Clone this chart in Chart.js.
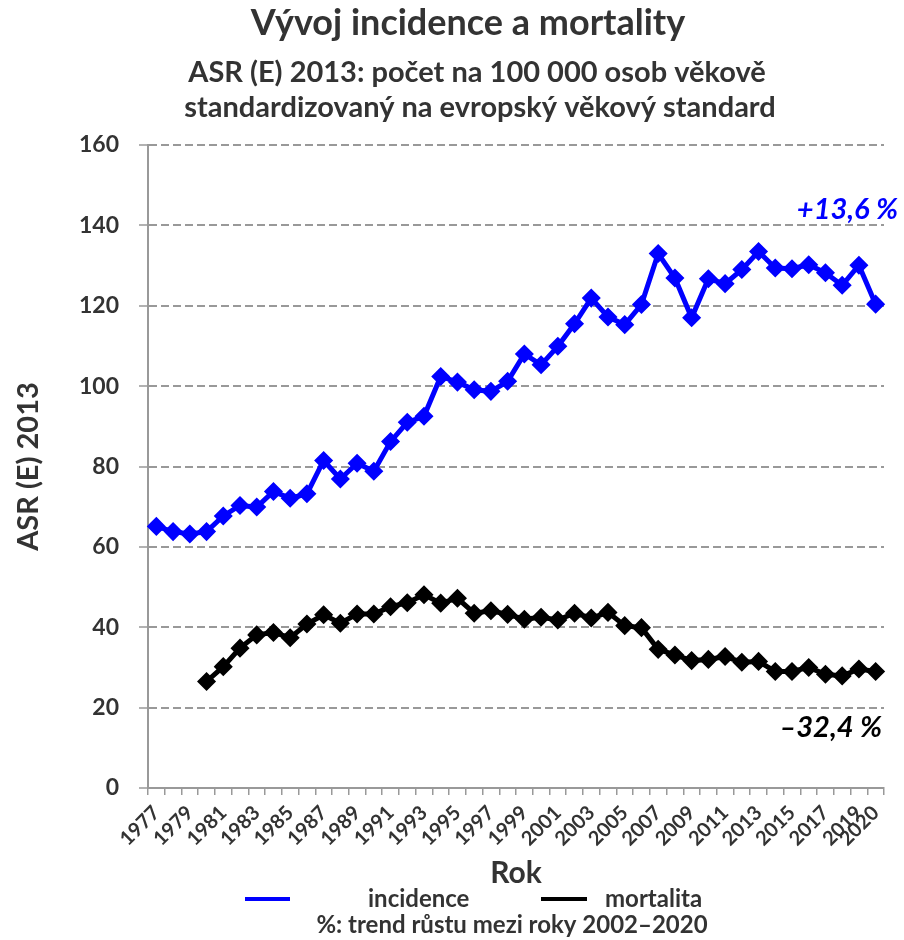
<!DOCTYPE html>
<html>
<head>
<meta charset="utf-8">
<script src="https://cdn.jsdelivr.net/npm/chart.js@4"></script>
<style>
  html, body { margin: 0; padding: 0; background: #fff; }
  #wrap { width: 904px; height: 940px; }
</style>
</head>
<body>
<div id="wrap"><canvas id="trendChart" width="904" height="940"></canvas></div>
<script>
// --- Data ---
const years = [];
for (let y = 1977; y <= 2020; y++) years.push(String(y));

const incidence = [65.1, 63.8, 63.2, 63.8, 67.7, 70.3, 69.9, 73.8, 72.1, 73.2,
  81.5, 76.9, 80.8, 78.8, 86.2, 91.0, 92.5, 102.4, 101.0, 99.1,
  98.7, 101.2, 108.0, 105.3, 109.9, 115.5, 121.9, 117.2, 115.3, 120.3,
  133.0, 126.9, 117.0, 126.7, 125.5, 129.0, 133.5, 129.4, 129.2, 130.2,
  128.2, 125.1, 130.1, 120.4];

const mortality = [null, null, null, 26.5, 30.2, 34.8, 38.1, 38.7, 37.4, 40.8,
  43.1, 41.0, 43.3, 43.3, 45.1, 46.1, 48.1, 46.0, 47.2, 43.5,
  44.1, 43.2, 42.0, 42.5, 41.8, 43.5, 42.3, 43.7, 40.4, 39.9,
  34.5, 33.1, 31.7, 32.0, 32.7, 31.3, 31.5, 29.0, 29.0, 30.0,
  28.3, 27.9, 29.6, 29.0];

const yTicks = [0, 20, 40, 60, 80, 100, 120, 140, 160];
const trendIncidence = "+13,6 %";
const trendMortality = "\u201332,4 %";

const FONT = "Lato, 'Open Sans', sans-serif";
const TEXT = "#333333";

// titles, legend and trend notes drawn on the canvas
const decorations = {
  id: "decorations",
  afterDraw(chart) {
    const c = chart.ctx;
    const area = chart.chartArea;
    const ys = chart.scales.y;
    c.save();
    c.textAlign = "center";
    c.textBaseline = "middle";
    c.fillStyle = TEXT;
    c.font = "bold 36px " + FONT;
    c.fillText("Vývoj incidence a mortality", 468, 23);
    c.font = "bold 29px " + FONT;
    c.fillText("ASR (E) 2013: počet na 100 000 osob věkově", 477, 73);
    c.fillText("standardizovaný na evropský věkový standard", 480, 108);

    // trend labels
    c.font = "italic bold 29px " + FONT;
    c.textAlign = "right";
    c.fillStyle = "#0000ff";
    c.fillText(trendIncidence, area.right + 14, ys.getPixelForValue(144));
    c.fillStyle = "#000000";
    c.fillText(trendMortality, area.right - 2, ys.getPixelForValue(15));

    // legend
    const ly = 899;
    const items = [
      { ds: chart.data.datasets[0], x1: 245, x2: 290, tx: 368 },
      { ds: chart.data.datasets[1], x1: 541, x2: 587, tx: 605 },
    ];
    c.font = "bold 24px " + FONT;
    c.textAlign = "left";
    items.forEach(it => {
      c.strokeStyle = it.ds.borderColor;
      c.lineWidth = 4;
      c.beginPath();
      c.moveTo(it.x1, ly);
      c.lineTo(it.x2, ly);
      c.stroke();
      c.fillStyle = TEXT;
      c.fillText(it.ds.label, it.tx, ly);
    });
    c.textAlign = "center";
    c.font = "bold 24px " + FONT;
    c.fillText("%: trend růstu mezi roky 2002\u20132020", 512, 925);
    c.restore();
  }
};

const ctx = document.getElementById("trendChart").getContext("2d");
const chart = new Chart(ctx, {
  type: "line",
  data: {
    labels: years,
    datasets: [
      {
        label: "incidence",
        data: incidence,
        borderColor: "#0000ff",
        backgroundColor: "#0000ff",
        borderWidth: 5,
        pointStyle: "rectRot",
        pointRadius: 6,
        tension: 0,
      },
      {
        label: "mortalita",
        data: mortality,
        borderColor: "#000000",
        backgroundColor: "#000000",
        borderWidth: 5,
        pointStyle: "rectRot",
        pointRadius: 6,
        tension: 0,
      },
    ],
  },
  options: {
    responsive: false,
    animation: false,
    layout: { padding: { top: 145, bottom: 52, left: 0, right: 20 } },
    plugins: {
      legend: { display: false },
      title: { display: false },
      tooltip: { enabled: false },
    },
    scales: {
      x: {
        offset: true,
        grid: {
          offset: true,
          drawOnChartArea: false,
          drawTicks: true,
          tickLength: 7,
          color: "#999999",
          lineWidth: 1.5,
        },
        border: { color: "#999999", width: 2 },
        ticks: {
          autoSkip: false,
          maxRotation: 45,
          minRotation: 45,
          padding: 6,
          color: TEXT,
          font: { family: FONT, size: 20, weight: "bold" },
          callback: function (val, i) {
            const yr = Number(years[i]);
            return (yr % 2 === 1 || i === years.length - 1) ? years[i] : "";
          },
        },
        title: {
          display: true,
          text: "Rok",
          color: TEXT,
          font: { family: FONT, size: 30, weight: "bold", lineHeight: 1.0 },
          padding: { top: 0, bottom: 0 },
        },
        afterFit: (s) => { s.height = 100; },
      },
      y: {
        min: 0,
        max: 160,
        afterBuildTicks: (s) => { s.ticks = yTicks.map(v => ({ value: v })); },
        grid: {
          color: "#999999",
          lineWidth: 2,
          tickLength: 9,
          tickColor: "#999999",
          tickWidth: 1.5,
        },
        border: { color: "#999999", width: 2, dash: [8, 4] },
        ticks: {
          padding: 20,
          color: TEXT,
          font: { family: FONT, size: 23, weight: "bold" },
        },
        title: {
          display: true,
          text: "ASR (E) 2013",
          color: TEXT,
          font: { family: FONT, size: 29, weight: "bold" },
          padding: { top: 11, bottom: 11 },
        },
        afterFit: (s) => { s.width = 148; },
      },
    },
  },
  plugins: [decorations],
});
</script>
</body>
</html>
